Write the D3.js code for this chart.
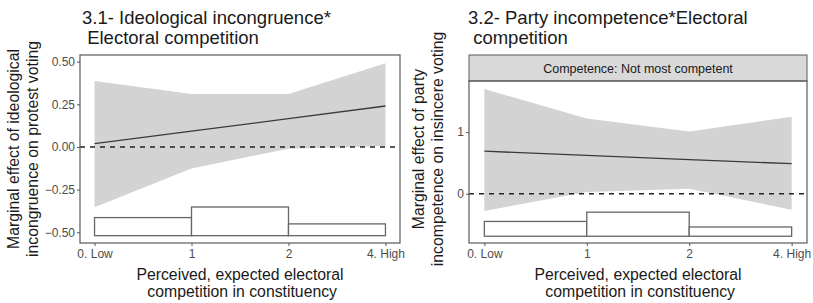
<!DOCTYPE html>
<html>
<head>
<meta charset="utf-8">
<script src="https://cdn.jsdelivr.net/npm/d3@7"></script>
<style>
    body { margin: 0; background: #ffffff; }
    svg { display: block; font-family: "Liberation Sans", Arial, sans-serif; }
    text { white-space: pre; }
</style>
</head>
<body>
<div id="chart"></div>
<script>
// Categories on the x axis (equally spaced)
const x_labels = ["0. Low", "1", "2", "4. High"];
const x_positions = [0, 1, 2, 3];

// 3.1 - Ideological incongruence
const left_fit = [0.02, 0.093, 0.166, 0.24];
const left_ci_low = [-0.353, -0.127, -0.01, 0.006];
const left_ci_high = [0.386, 0.31, 0.31, 0.49];
const left_hist_top = [-0.414, -0.352, -0.451];
const left_hist_base = -0.52;
const left_y_ticks = [-0.5, -0.25, 0, 0.25, 0.5];

// 3.2 - Party incompetence
const right_fit = [0.69, 0.622, 0.555, 0.487];
const right_ci_low = [-0.28, 0.03, 0.08, -0.26];
const right_ci_high = [1.70, 1.22, 1.01, 1.25];
const right_hist_top = [-0.45, -0.30, -0.54];
const right_hist_base = -0.69;
const right_y_ticks = [0, 1];

const width = 813;
const height = 303;

const svg = d3.select("#chart").append("svg")
    .attr("width", width)
    .attr("height", height);

function draw_panel(cfg) {
    const x = d3.scaleLinear().domain([-0.15, 3.15]).range([cfg.left, cfg.right]);
    const y = d3.scaleLinear().domain(cfg.y_domain).range([cfg.bottom, cfg.top]);
    const g = svg.append("g");

    // Title (two lines)
    cfg.title.forEach((t, i) => {
        g.append("text")
            .attr("x", cfg.title_x)
            .attr("y", 24 + i * 20)
            .attr("font-size", 18.5)
            .attr("fill", "#1a1a1a")
            .text(t);
    });

    // Strip for facet label
    if (cfg.strip) {
        g.append("rect")
            .attr("x", cfg.left).attr("y", cfg.strip_top)
            .attr("width", cfg.right - cfg.left).attr("height", cfg.top - cfg.strip_top)
            .attr("fill", "#d9d9d9")
            .attr("stroke", "#5a5a5a").attr("stroke-width", 1);
        g.append("text")
            .attr("x", (cfg.left + cfg.right) / 2)
            .attr("y", (cfg.strip_top + cfg.top) / 2 + 4.5)
            .attr("text-anchor", "middle")
            .attr("font-size", 12.5)
            .attr("fill", "#1a1a1a")
            .text(cfg.strip);
    }

    const clip_id = "clip" + cfg.id;
    svg.append("clipPath").attr("id", clip_id)
        .append("rect")
        .attr("x", cfg.left).attr("y", cfg.top)
        .attr("width", cfg.right - cfg.left).attr("height", cfg.bottom - cfg.top);
    const plot = g.append("g").attr("clip-path", `url(#${clip_id})`);

    // Confidence ribbon
    const ribbon = x_positions.map((p, i) => ({x: p, lo: cfg.ci_low[i], hi: cfg.ci_high[i]}));
    plot.append("path")
        .datum(ribbon)
        .attr("fill", "#d3d3d3")
        .attr("d", d3.area().x(d => x(d.x)).y0(d => y(d.lo)).y1(d => y(d.hi)));

    // Zero line
    plot.append("line")
        .attr("x1", cfg.left).attr("x2", cfg.right)
        .attr("y1", y(0)).attr("y2", y(0))
        .attr("stroke", "#222").attr("stroke-width", 1.4)
        .attr("stroke-dasharray", "5,5");

    // Marginal effect line
    const fit = x_positions.map((p, i) => ({x: p, v: cfg.fit[i]}));
    plot.append("path")
        .datum(fit)
        .attr("fill", "none")
        .attr("stroke", "#3a3a3a")
        .attr("stroke-width", 1.3)
        .attr("d", d3.line().x(d => x(d.x)).y(d => y(d.v)));

    // Histogram of the moderator
    plot.selectAll("rect.hist")
        .data(cfg.hist_top)
        .join("rect")
        .attr("class", "hist")
        .attr("x", (d, i) => x(x_positions[i]))
        .attr("width", (d, i) => x(x_positions[i + 1]) - x(x_positions[i]))
        .attr("y", d => y(d))
        .attr("height", d => y(cfg.hist_base) - y(d))
        .attr("fill", "white")
        .attr("stroke", "#666")
        .attr("stroke-width", 1.3);

    // Panel border
    g.append("rect")
        .attr("x", cfg.left).attr("y", cfg.top)
        .attr("width", cfg.right - cfg.left).attr("height", cfg.bottom - cfg.top)
        .attr("fill", "none")
        .attr("stroke", "#5a5a5a").attr("stroke-width", 1.2);

    // Y axis
    const y_axis = g.append("g")
        .attr("transform", `translate(${cfg.left},0)`)
        .call(d3.axisLeft(y).tickValues(cfg.y_ticks).tickSize(3).tickPadding(2)
            .tickFormat(cfg.y_format));
    y_axis.select(".domain").remove();
    y_axis.selectAll("line").attr("stroke", "#555");
    y_axis.selectAll("text").attr("font-size", 12).attr("fill", "#4d4d4d")
        .attr("font-family", "Liberation Sans, Arial, sans-serif");

    // X axis
    const x_axis = g.append("g")
        .attr("transform", `translate(0,${cfg.bottom})`)
        .call(d3.axisBottom(x).tickValues(x_positions).tickSize(3).tickPadding(3)
            .tickFormat((d, i) => x_labels[i]));
    x_axis.select(".domain").remove();
    x_axis.selectAll("line").attr("stroke", "#555");
    x_axis.selectAll("text").attr("font-size", 12).attr("fill", "#4d4d4d")
        .attr("font-family", "Liberation Sans, Arial, sans-serif");

    // X title
    const x_mid = (cfg.left + cfg.right) / 2;
    ["Perceived, expected electoral", " competition in constituency"].forEach((t, i) => {
        g.append("text")
            .attr("x", x_mid)
            .attr("y", 280 + i * 17)
            .attr("text-anchor", "middle")
            .attr("font-size", 15.8)
            .attr("fill", "#1a1a1a")
            .text(t);
    });

    // Y title (rotated, two lines)
    cfg.y_title.forEach((t, i) => {
        g.append("text")
            .attr("transform", `translate(${cfg.y_title_x + i * 19},${cfg.y_title_mid}) rotate(-90)`)
            .attr("text-anchor", "middle")
            .attr("font-size", 15.8)
            .attr("fill", "#1a1a1a")
            .text(t);
    });
}

draw_panel({
    id: 1,
    left: 80, right: 400, top: 55, bottom: 243,
    y_domain: [-0.563, 0.539],
    y_ticks: left_y_ticks,
    y_format: d3.format(".2f"),
    fit: left_fit, ci_low: left_ci_low, ci_high: left_ci_high,
    hist_top: left_hist_top, hist_base: left_hist_base,
    title: ["3.1- Ideological incongruence*", " Electoral competition"],
    title_x: 82,
    y_title: ["Marginal effect of ideological", "incongruence on protest voting"],
    y_title_x: 19, y_title_mid: 149
});

draw_panel({
    id: 2,
    left: 469, right: 807, top: 81, bottom: 243, strip_top: 55,
    strip: "Competence: Not most competent",
    y_domain: [-0.8, 1.83],
    y_ticks: right_y_ticks,
    y_format: d3.format("d"),
    fit: right_fit, ci_low: right_ci_low, ci_high: right_ci_high,
    hist_top: right_hist_top, hist_base: right_hist_base,
    title: ["3.2- Party incompetence*Electoral", " competition"],
    title_x: 468,
    y_title: ["Marginal effect of party", "incompetence on insincere voting"],
    y_title_x: 424, y_title_mid: 149
});
</script>
</body>
</html>
